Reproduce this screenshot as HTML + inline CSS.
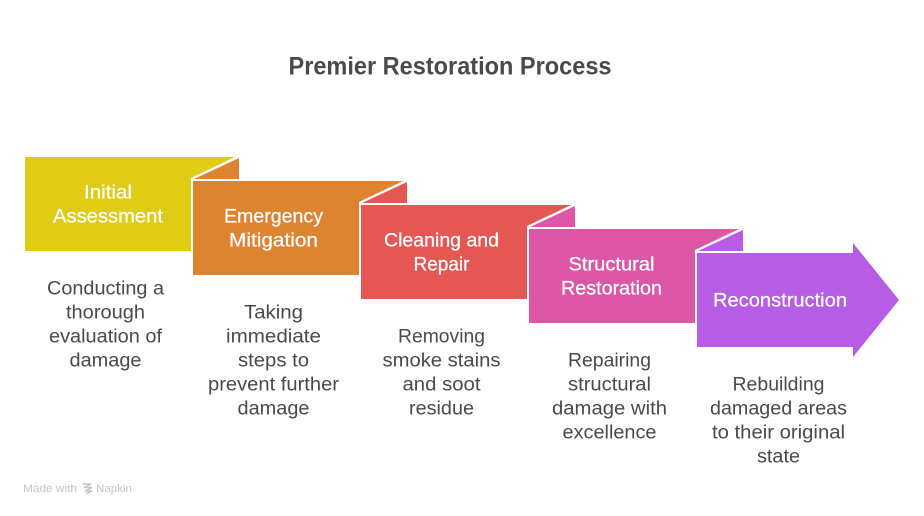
<!DOCTYPE html>
<html><head><meta charset="utf-8"><style>
html,body{margin:0;padding:0;background:#fff;width:924px;height:516px;overflow:hidden}
svg{display:block}
text{font-family:"Liberation Sans",sans-serif;font-size:19px}
.w{fill:#fff;text-anchor:middle;stroke:#fff;stroke-width:.25px}
.d{fill:#4a4a4a;text-anchor:middle}
</style></head><body>
<svg width="924" height="516" viewBox="0 0 924 516" xmlns="http://www.w3.org/2000/svg">
<rect width="924" height="516" fill="#fff"/>
<text x="450" y="74.500" style="font-size:25px;font-weight:bold" fill="#4a4a4a" text-anchor="middle" textLength="323" lengthAdjust="spacingAndGlyphs">Premier Restoration Process</text>

<polygon points="194,179 239,158 239,179" fill="#de8431"/>
<polygon points="25,157 235,157 191,178 191,251 25,251" fill="#e0cb15"/>
<polygon points="362,203 407,182 407,203" fill="#e55753"/>
<polygon points="193,181 403,181 359,202 359,275 193,275" fill="#de8431"/>
<polygon points="530,227 575,206 575,227" fill="#de57a6"/>
<polygon points="361,205 571,205 527,226 527,299 361,299" fill="#e55753"/>
<polygon points="698,251 743,230 743,251" fill="#b75ce4"/>
<polygon points="529,229 739,229 695,250 695,323 529,323" fill="#de57a6"/>
<polygon points="697,253 853,253 853,243 899,300 853,357 853,347 697,347" fill="#b75ce4"/>

<g transform="translate(0,.7)">
<text class="w" x="108" y="198" textLength="48" lengthAdjust="spacingAndGlyphs">Initial</text>
<text class="w" x="108" y="222" textLength="110" lengthAdjust="spacingAndGlyphs">Assessment</text>
<text class="w" x="273.500" y="222" textLength="99" lengthAdjust="spacingAndGlyphs">Emergency</text>
<text class="w" x="273.500" y="246" textLength="89" lengthAdjust="spacingAndGlyphs">Mitigation</text>
<text class="w" x="441.500" y="246" textLength="115" lengthAdjust="spacingAndGlyphs">Cleaning and</text>
<text class="w" x="441.500" y="270" textLength="56" lengthAdjust="spacingAndGlyphs">Repair</text>
<text class="w" x="611.500" y="270" textLength="86" lengthAdjust="spacingAndGlyphs">Structural</text>
<text class="w" x="611.500" y="294" textLength="101" lengthAdjust="spacingAndGlyphs">Restoration</text>
<text class="w" x="780" y="306" textLength="134" lengthAdjust="spacingAndGlyphs">Reconstruction</text>

<text class="d" x="105.500" y="294" textLength="117" lengthAdjust="spacingAndGlyphs">Conducting a</text>
<text class="d" x="105.500" y="318" textLength="79" lengthAdjust="spacingAndGlyphs">thorough</text>
<text class="d" x="105.500" y="342" textLength="113" lengthAdjust="spacingAndGlyphs">evaluation of</text>
<text class="d" x="105.500" y="366" textLength="72" lengthAdjust="spacingAndGlyphs">damage</text>

<text class="d" x="273.500" y="318" textLength="59" lengthAdjust="spacingAndGlyphs">Taking</text>
<text class="d" x="273.500" y="342" textLength="95" lengthAdjust="spacingAndGlyphs">immediate</text>
<text class="d" x="273.500" y="366" textLength="71" lengthAdjust="spacingAndGlyphs">steps to</text>
<text class="d" x="273.500" y="390" textLength="131" lengthAdjust="spacingAndGlyphs">prevent further</text>
<text class="d" x="273.500" y="414" textLength="72" lengthAdjust="spacingAndGlyphs">damage</text>

<text class="d" x="441.500" y="342" textLength="87" lengthAdjust="spacingAndGlyphs">Removing</text>
<text class="d" x="441.500" y="366" textLength="118" lengthAdjust="spacingAndGlyphs">smoke stains</text>
<text class="d" x="441.500" y="390" textLength="78" lengthAdjust="spacingAndGlyphs">and soot</text>
<text class="d" x="441.500" y="414" textLength="65" lengthAdjust="spacingAndGlyphs">residue</text>

<text class="d" x="609.500" y="366" textLength="83" lengthAdjust="spacingAndGlyphs">Repairing</text>
<text class="d" x="609.500" y="390" textLength="83" lengthAdjust="spacingAndGlyphs">structural</text>
<text class="d" x="609.500" y="414" textLength="115" lengthAdjust="spacingAndGlyphs">damage with</text>
<text class="d" x="609.500" y="438" textLength="94" lengthAdjust="spacingAndGlyphs">excellence</text>

<text class="d" x="778.500" y="390" textLength="92" lengthAdjust="spacingAndGlyphs">Rebuilding</text>
<text class="d" x="778.500" y="414" textLength="137" lengthAdjust="spacingAndGlyphs">damaged areas</text>
<text class="d" x="778.500" y="438" textLength="133" lengthAdjust="spacingAndGlyphs">to their original</text>
<text class="d" x="778.500" y="462" textLength="43" lengthAdjust="spacingAndGlyphs">state</text>
</g>

<text x="23" y="492" style="font-size:11px" fill="#c4c4c4" textLength="54" lengthAdjust="spacingAndGlyphs">Made with</text>
<path d="M83 484h8l-7 3.500h8l-7 3.500h7l-6 3" fill="none" stroke="#c4c4c4" stroke-width="1.400"/>
<text x="96" y="492" style="font-size:11px" fill="#c4c4c4" textLength="36" lengthAdjust="spacingAndGlyphs">Napkin</text>
</svg>
</body></html>
